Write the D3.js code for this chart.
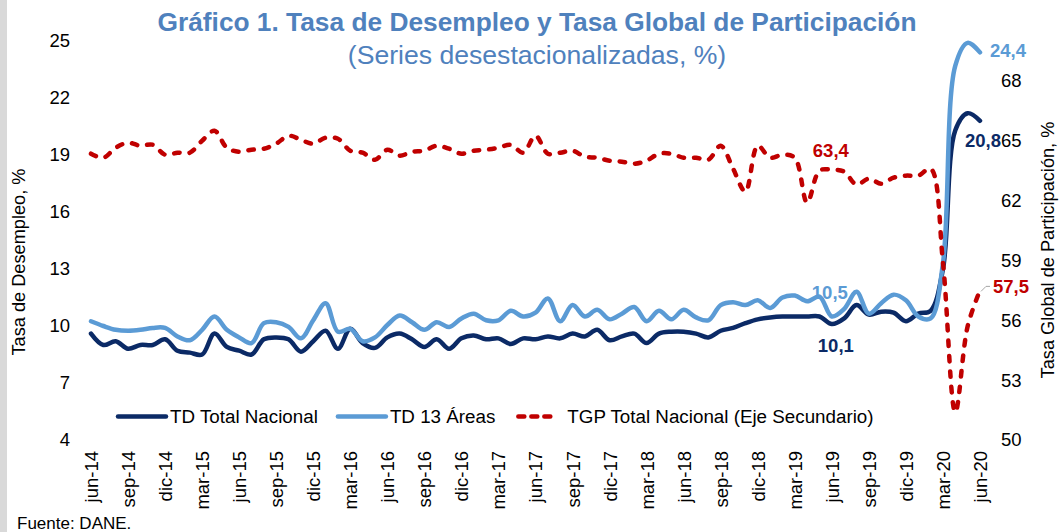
<!DOCTYPE html>
<html lang="es">
  <head>
    <meta charset="UTF-8" />
    <script src="https://cdn.jsdelivr.net/npm/d3@7"></script>
    <title>Tasa de Desempleo y TGP</title>
    <style>
      body { margin: 0; background: #fff; }
      svg { display: block; font-family: "Liberation Sans", Arial, sans-serif; }
    </style>
  </head>
  <body>
    <svg width="1059" height="532"></svg>
    <script>
      // meses (jun-14 a jun-20)
      var months = [
        "jun-14", "jul-14", "ago-14", "sep-14", "oct-14", "nov-14", "dic-14",
        "ene-15", "feb-15", "mar-15", "abr-15", "may-15", "jun-15", "jul-15", "ago-15", "sep-15", "oct-15", "nov-15", "dic-15",
        "ene-16", "feb-16", "mar-16", "abr-16", "may-16", "jun-16", "jul-16", "ago-16", "sep-16", "oct-16", "nov-16", "dic-16",
        "ene-17", "feb-17", "mar-17", "abr-17", "may-17", "jun-17", "jul-17", "ago-17", "sep-17", "oct-17", "nov-17", "dic-17",
        "ene-18", "feb-18", "mar-18", "abr-18", "may-18", "jun-18", "jul-18", "ago-18", "sep-18", "oct-18", "nov-18", "dic-18",
        "ene-19", "feb-19", "mar-19", "abr-19", "may-19", "jun-19", "jul-19", "ago-19", "sep-19", "oct-19", "nov-19", "dic-19",
        "ene-20", "feb-20", "mar-20", "abr-20", "may-20", "jun-20"
      ];

      var tdNacional = [
        9.6, 9.0, 9.2, 8.8, 9.0, 9.0, 9.3,
        8.7, 8.6, 8.5, 9.6, 8.9, 8.7, 8.5, 9.3, 9.4, 9.3, 8.65, 9.2,
        9.75, 8.8, 9.85, 9.1, 8.85, 9.4, 9.6, 9.3, 8.9, 9.3, 8.8, 9.35,
        9.5, 9.3, 9.35, 9.05, 9.35, 9.3, 9.45, 9.35, 9.6, 9.45, 9.8, 9.25,
        9.45, 9.6, 9.1, 9.6, 9.7, 9.7, 9.6, 9.4, 9.75, 9.9, 10.15, 10.35,
        10.45, 10.5, 10.5, 10.5, 10.5, 10.1, 10.4, 11.1, 10.6, 10.75, 10.7, 10.25,
        10.65, 10.8, 13.0, 20.3, 21.2, 20.8
      ];

      var td13Areas = [
        10.25, 10.0, 9.8, 9.75, 9.8, 9.9, 9.9,
        9.45, 9.25, 9.8, 10.5, 9.8, 9.4, 9.1, 10.15, 10.2, 9.95, 9.35, 10.3,
        11.2, 9.7, 9.85, 9.2, 9.4, 10.05, 10.55, 10.2, 9.8, 10.2, 9.95, 10.4,
        10.65, 10.3, 10.3, 10.8, 10.5, 10.7, 11.45, 10.25, 11.1, 10.5, 10.85, 10.35,
        10.65, 11.0, 10.25, 10.8, 10.35, 10.85, 10.45, 10.3, 11.1, 11.25, 11.1, 11.35,
        10.95, 11.5, 11.6, 11.3, 11.55, 10.5, 10.9, 11.8, 10.65, 11.2, 11.65, 11.35,
        10.5, 10.4, 13.3, 23.7, 24.9, 24.4
      ];

      var tgpNacional = [
        64.35, 64.15, 64.65, 64.9, 64.75, 64.8, 64.3,
        64.4, 64.4, 65.0, 65.5, 64.65, 64.45, 64.55, 64.6, 64.85, 65.25, 65.05, 64.85,
        65.15, 65.1, 64.5, 64.4, 64.05, 64.55, 64.25, 64.45, 64.5, 64.75, 64.6, 64.35,
        64.5, 64.55, 64.65, 64.8, 64.4, 65.25, 64.35, 64.4, 64.5, 64.2, 64.15, 64.0,
        63.95, 63.85, 64.0, 64.35, 64.35, 64.15, 64.15, 64.05, 64.75, 63.6, 62.45, 64.75,
        64.15, 64.3, 64.15, 61.9, 63.5, 63.55, 63.45, 62.8, 63.1, 62.85, 63.15, 63.25,
        63.25, 63.6, 58.9, 51.4, 55.7, 57.5
      ];

      var leftTicks = [4, 7, 10, 13, 16, 19, 22, 25];
      var rightTicks = [50, 53, 56, 59, 62, 65, 68];
      var seriesNames = ["TD Total Nacional", "TD 13 Áreas", "TGP Total Nacional (Eje Secundario)"];

      var navy = "#0b2a66",
        lightBlue = "#5b9bd5",
        red = "#c00000",
        titleBlue = "#4f81bd";

      var svg = d3.select("svg");

      // franja gris a la izquierda
      svg.append("rect").attr("x", 0).attr("y", 0).attr("width", 7).attr("height", 532).attr("fill", "#d9d9d9");

      var x = d3.scalePoint().domain(months).range([91, 980]);
      var yL = d3.scaleLinear().domain([4, 25]).range([440, 41]);
      var yR = d3.scaleLinear().domain([50, 70]).range([440, 41]);

      // titulos
      svg.append("text")
        .attr("x", 537).attr("y", 31)
        .attr("text-anchor", "middle")
        .attr("font-size", "26.3px").attr("font-weight", "bold")
        .attr("fill", titleBlue)
        .text("Gráfico 1. Tasa de Desempleo y Tasa Global de Participación");
      svg.append("text")
        .attr("x", 537).attr("y", 64)
        .attr("text-anchor", "middle")
        .attr("font-size", "26.6px")
        .attr("fill", titleBlue)
        .text("(Series desestacionalizadas, %)");

      // ejes
      var axL = svg.append("g")
        .attr("transform", "translate(70,0)")
        .call(d3.axisLeft(yL).tickValues(leftTicks).tickSize(0).tickPadding(0));
      var axR = svg.append("g")
        .attr("transform", "translate(1001,0)")
        .call(d3.axisRight(yR).tickValues(rightTicks).tickSize(0).tickPadding(0));
      var axB = svg.append("g")
        .attr("transform", "translate(0,451)")
        .call(d3.axisBottom(x).tickValues(months.filter(function (d, i) { return i % 3 === 0; })).tickSize(0));

      [axL, axR, axB].forEach(function (ax) {
        ax.select(".domain").remove();
        ax.selectAll("text").attr("font-size", "18.5px").attr("fill", "#000").attr("font-family", null);
        ax.attr("font-family", null);
      });
      axB.selectAll("text")
        .attr("x", 0).attr("y", 0).attr("dy", "0.35em")
        .attr("transform", "rotate(-90)")
        .style("text-anchor", "end");

      svg.append("text")
        .attr("transform", "translate(25,262) rotate(-90)")
        .attr("text-anchor", "middle")
        .attr("font-size", "18.2px")
        .text("Tasa de Desempleo, %");
      svg.append("text")
        .attr("transform", "translate(1054,250) rotate(-90)")
        .attr("text-anchor", "middle")
        .attr("font-size", "18.2px")
        .text("Tasa Global de Participación, %");

      // lineas
      function lineFor(scale) {
        return d3.line()
          .x(function (d, i) { return x(months[i]); })
          .y(function (d) { return scale(d); })
          .curve(d3.curveCatmullRom.alpha(0.5));
      }

      svg.append("path").datum(tdNacional)
        .attr("d", lineFor(yL))
        .attr("fill", "none").attr("stroke", navy).attr("stroke-width", 4.5)
        .attr("stroke-linejoin", "round").attr("stroke-linecap", "round");
      svg.append("path").datum(td13Areas)
        .attr("d", lineFor(yL))
        .attr("fill", "none").attr("stroke", lightBlue).attr("stroke-width", 4.5)
        .attr("stroke-linejoin", "round").attr("stroke-linecap", "round");
      svg.append("path").datum(tgpNacional)
        .attr("d", lineFor(yR))
        .attr("fill", "none").attr("stroke", red).attr("stroke-width", 4.5)
        .attr("stroke-dasharray", "5.5,10").attr("stroke-linecap", "round");

      // etiquetas de datos
      var last = months.length - 1,
        mark = 60;
      function label(txt, px, py, anchor, color) {
        svg.append("text")
          .attr("x", px).attr("y", py)
          .attr("text-anchor", anchor)
          .attr("font-size", "18.5px").attr("font-weight", "bold")
          .attr("fill", color)
          .text(txt);
      }
      label("24,4", x(months[last]) + 10, yL(td13Areas[last]) + 5, "start", lightBlue);
      label("20,8", x(months[last]) - 15, yL(tdNacional[last]) + 26, "start", navy);
      label("63,4", x(months[mark]) - 1, yR(tgpNacional[mark]) - 13, "middle", red);
      label("10,5", x(months[mark]) - 2, yL(td13Areas[mark]) - 18, "middle", lightBlue);
      label("10,1", x(months[mark]) + 4, yL(tdNacional[mark]) + 28, "middle", navy);
      label("57,5", x(months[last]) + 13, yR(tgpNacional[last]) + 3, "start", red);
      svg.append("path")
        .attr("d", "M" + (x(months[last]) + 1) + "," + (yR(tgpNacional[last]) + 1) +
          "l5,-5h4")
        .attr("fill", "none").attr("stroke", "#a6a6a6").attr("stroke-width", 1);

      // leyenda
      var legend = svg.append("g").attr("font-size", "18.8px");
      var colors = [navy, lightBlue, red];
      var lx = 118,
        ly = 416.5;
      seriesNames.forEach(function (name, i) {
        var l = legend.append("line")
          .attr("x1", lx).attr("x2", lx + 48)
          .attr("y1", ly).attr("y2", ly)
          .attr("stroke", colors[i]).attr("stroke-width", 4.5)
          .attr("stroke-linecap", "round");
        if (i === 2) l.attr("stroke-dasharray", "6,7").attr("x1", lx + 3).attr("x2", lx + 38);
        var t = legend.append("text")
          .attr("x", lx + 52).attr("y", ly).attr("dy", "0.35em")
          .text(name);
        lx = lx + 52 + t.node().getComputedTextLength() + 20;
      });

      svg.append("text")
        .attr("x", 17).attr("y", 529)
        .attr("font-size", "17px")
        .text("Fuente: DANE.");
    </script>
  </body>
</html>
